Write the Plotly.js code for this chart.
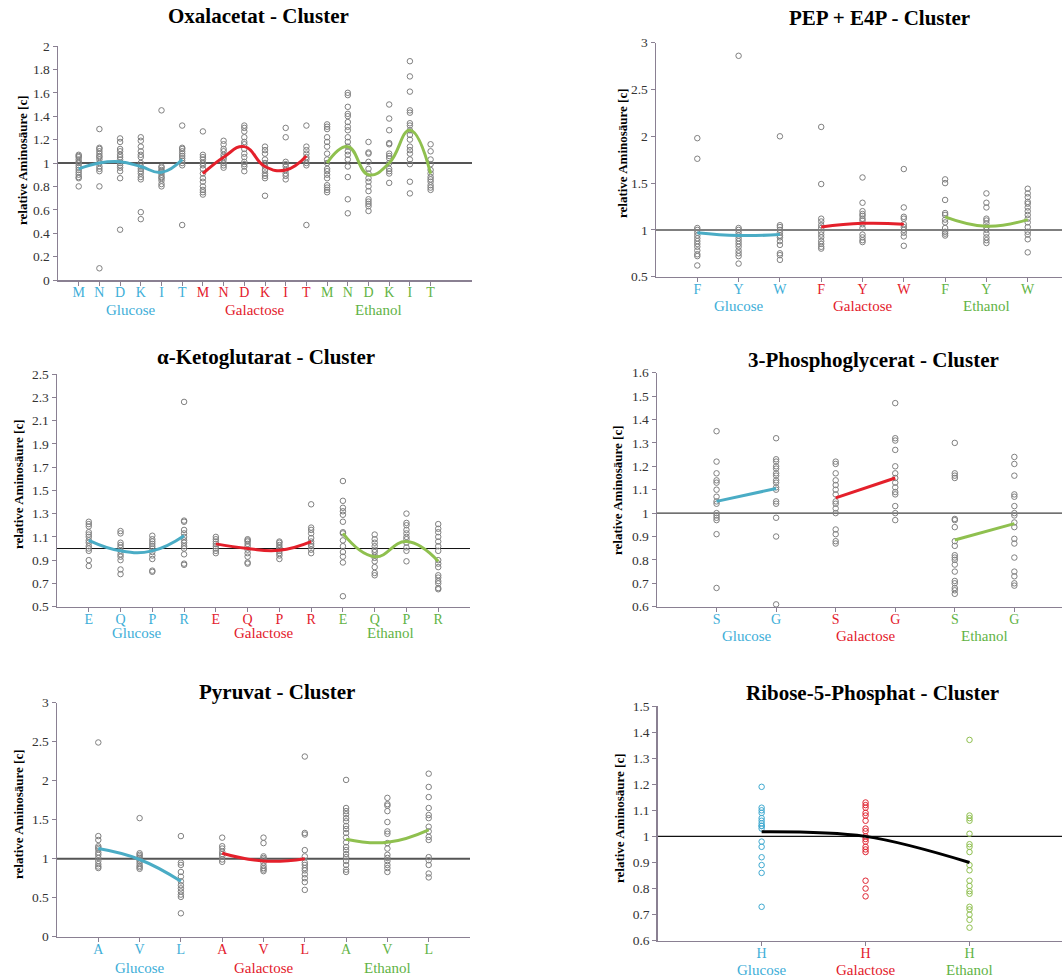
<!DOCTYPE html>
<html><head><meta charset="utf-8">
<script src="https://cdn.plot.ly/plotly-3.0.1.min.js"></script>
<style>html,body{margin:0;padding:0;background:#fff}#chart{width:1062px;height:977px}</style>
</head><body><div id="chart"></div>
<script>
// ---------- DATA ----------
const groupNames = ['Glucose', 'Galactose', 'Ethanol'];

// Oxalacetat
const oxaCats = ['M', 'N', 'D', 'K', 'I', 'T'];
const oxaGlucose = [
  [1.07,1.06,1.05,1.03,1.01,1.0,0.98,0.96,0.94,0.92,0.90,0.88,0.87,0.80],
  [1.29,1.13,1.12,1.10,1.08,1.06,1.05,1.03,1.0,0.97,0.95,0.93,0.80,0.10],
  [1.21,1.18,1.12,1.10,1.07,1.05,1.03,1.0,0.98,0.96,0.93,0.87,0.43],
  [1.22,1.19,1.14,1.10,1.07,1.05,1.0,0.97,0.95,0.93,0.91,0.88,0.86,0.58,0.52],
  [1.45,0.97,0.96,0.94,0.93,0.92,0.90,0.88,0.87,0.85,0.82,0.80],
  [1.32,1.13,1.12,1.10,1.08,1.06,1.04,1.02,1.0,0.98,0.47]
];
const oxaGalactose = [
  [1.27,1.07,1.05,1.03,1.0,0.98,0.95,0.91,0.87,0.84,0.80,0.77,0.75,0.73],
  [1.19,1.16,1.12,1.10,1.07,1.05,1.03,1.0,0.98,0.96],
  [1.32,1.30,1.27,1.22,1.18,1.16,1.12,1.08,1.05,1.01,0.99,0.97,0.93],
  [1.14,1.11,1.08,1.03,1.0,0.97,0.94,0.91,0.89,0.87,0.72],
  [1.30,1.22,1.01,0.99,0.97,0.94,0.91,0.89,0.86],
  [1.32,1.14,1.11,1.08,1.05,1.03,1.0,0.98,0.47]
];
const oxaEthanol = [
  [1.33,1.31,1.29,1.22,1.18,1.14,1.08,1.03,1.0,0.95,0.93,0.90,0.87,0.81,0.79,0.77,0.75],
  [1.60,1.58,1.48,1.42,1.40,1.35,1.31,1.28,1.22,1.18,1.14,1.10,1.07,1.03,0.97,0.88,0.69,0.57],
  [1.18,1.09,1.08,1.01,0.95,0.91,0.87,0.84,0.80,0.76,0.69,0.67,0.65,0.63,0.59],
  [1.50,1.38,1.28,1.17,1.16,1.08,1.06,1.04,1.0,0.95,0.93,0.91,0.83],
  [1.87,1.74,1.61,1.45,1.43,1.34,1.32,1.28,1.24,1.20,1.14,1.11,1.08,1.03,0.99,0.84,0.74],
  [1.16,1.10,1.03,0.99,0.94,0.91,0.88,0.86,0.84,0.81,0.79,0.77]
];
const oxaCurveGlucose = [0.95, 1.0, 1.01, 0.97, 0.92, 1.03];
const oxaCurveGalactose = [0.91, 1.05, 1.14, 0.97, 0.94, 1.06];
const oxaCurveEthanol = [1.0, 1.14, 0.9, 1.0, 1.28, 0.91];

// PEP + E4P
const pepCats = ['F', 'Y', 'W'];
const pepGlucose = [
  [1.98,1.76,1.02,1.0,0.97,0.94,0.91,0.88,0.85,0.82,0.78,0.74,0.72,0.62],
  [2.86,1.02,1.0,0.97,0.94,0.91,0.88,0.85,0.82,0.78,0.75,0.72,0.64],
  [2.0,1.05,1.03,1.0,0.97,0.94,0.92,0.88,0.84,0.75,0.73,0.68]
];
const pepGalactose = [
  [2.10,1.49,1.12,1.09,1.05,1.02,0.98,0.95,0.92,0.88,0.85,0.82,0.80],
  [1.56,1.29,1.20,1.17,1.15,1.12,1.10,1.06,1.02,0.95,0.92,0.89,0.87],
  [1.65,1.24,1.14,1.12,1.06,1.03,1.0,0.97,0.93,0.83]
];
const pepEthanol = [
  [1.54,1.50,1.32,1.18,1.16,1.11,1.08,1.02,0.98,0.96,0.94],
  [1.39,1.29,1.24,1.12,1.10,1.07,1.03,1.0,0.96,0.92,0.89,0.86],
  [1.44,1.39,1.35,1.30,1.28,1.24,1.20,1.16,1.12,1.08,1.03,0.98,0.95,0.90,0.76]
];
const pepCurveGlucose = [0.97, 0.94, 0.95];
const pepCurveGalactose = [1.03, 1.07, 1.06];
const pepCurveEthanol = [1.14, 1.04, 1.11];

// alpha-Ketoglutarat
const akgCats = ['E', 'Q', 'P', 'R'];
const akgGlucose = [
  [1.23,1.21,1.19,1.14,1.12,1.10,1.07,1.05,1.02,1.0,0.98,0.90,0.85],
  [1.15,1.13,1.05,1.03,1.01,0.98,0.95,0.93,0.90,0.82,0.78],
  [1.11,1.08,1.06,1.04,1.02,1.0,0.97,0.94,0.91,0.81,0.80],
  [2.26,1.24,1.23,1.16,1.13,1.10,1.07,1.05,1.02,1.0,0.95,0.87,0.86]
];
const akgGalactose = [
  [1.10,1.08,1.06,1.04,1.02,1.0,0.98,0.96],
  [1.08,1.07,1.06,1.04,1.02,0.99,0.96,0.93,0.88,0.87],
  [1.06,1.05,1.03,1.01,1.0,0.98,0.96,0.94,0.91],
  [1.38,1.18,1.16,1.13,1.09,1.06,1.04,1.02,0.99,0.96]
];
const akgEthanol = [
  [1.58,1.41,1.35,1.32,1.29,1.23,1.14,1.13,1.07,1.02,0.97,0.93,0.88,0.59],
  [1.12,1.08,1.05,1.02,0.99,0.97,0.94,0.92,0.89,0.84,0.79,0.77],
  [1.30,1.22,1.20,1.16,1.13,1.10,1.08,1.05,1.01,0.98,0.89],
  [1.21,1.17,1.14,1.10,1.06,1.02,0.98,0.90,0.87,0.84,0.77,0.75,0.72,0.70,0.66,0.65]
];
const akgCurveGlucose = [1.07, 0.98, 0.98, 1.11];
const akgCurveGalactose = [1.04, 1.0, 0.985, 1.06];
const akgCurveEthanol = [1.13, 0.93, 1.06, 0.89];

// 3-Phosphoglycerat
const pgaCats = ['S', 'G'];
const pgaGlucose = [
  [1.35,1.22,1.17,1.14,1.13,1.10,1.07,1.05,1.04,1.0,0.99,0.98,0.97,0.91,0.68],
  [1.32,1.23,1.22,1.20,1.19,1.17,1.16,1.14,1.13,1.11,1.10,1.05,1.04,0.98,0.90,0.61]
];
const pgaGalactose = [
  [1.22,1.21,1.17,1.14,1.12,1.10,1.08,1.05,1.04,1.02,1.0,0.93,0.91,0.88,0.87],
  [1.47,1.32,1.31,1.27,1.20,1.17,1.15,1.13,1.11,1.09,1.08,1.03,1.0,0.97]
];
const pgaEthanol = [
  [1.30,1.17,1.16,1.15,0.975,0.97,0.94,0.88,0.86,0.82,0.81,0.80,0.78,0.75,0.71,0.70,0.68,0.67,0.655],
  [1.24,1.21,1.16,1.08,1.07,1.03,1.0,0.99,0.96,0.94,0.89,0.87,0.81,0.75,0.73,0.70,0.69]
];
const pgaCurveGlucose = [1.05, 1.105];
const pgaCurveGalactose = [1.065, 1.15];
const pgaCurveEthanol = [0.885, 0.955];

// Pyruvat
const pyrCats = ['A', 'V', 'L'];
const pyrGlucose = [
  [2.49,1.29,1.24,1.16,1.14,1.12,1.08,1.05,1.01,0.97,0.93,0.90,0.88],
  [1.52,1.07,1.05,1.03,1.01,0.99,0.97,0.94,0.91,0.89,0.87],
  [1.29,0.95,0.92,0.83,0.77,0.71,0.66,0.62,0.58,0.54,0.51,0.30]
];
const pyrGalactose = [
  [1.27,1.16,1.13,1.09,1.06,1.03,0.99,0.96],
  [1.27,1.20,1.03,1.01,0.99,0.95,0.91,0.88,0.86,0.84],
  [2.31,1.33,1.31,1.11,1.03,0.95,0.92,0.88,0.85,0.80,0.75,0.70,0.60]
];
const pyrEthanol = [
  [2.01,1.65,1.61,1.57,1.52,1.48,1.42,1.38,1.33,1.27,1.21,1.15,1.11,1.06,1.02,0.97,0.92,0.86,0.83],
  [1.78,1.70,1.68,1.61,1.47,1.35,1.32,1.20,1.13,1.05,1.01,0.97,0.92,0.88,0.83],
  [2.09,1.92,1.79,1.65,1.56,1.52,1.41,1.35,1.28,1.24,1.02,0.98,0.92,0.81,0.76]
];
const pyrCurveGlucose = [1.13, 0.99, 0.71];
const pyrCurveGalactose = [1.07, 0.97, 1.0];
const pyrCurveEthanol = [1.25, 1.21, 1.37];

// Ribose-5-Phosphat
const r5pCats = ['H'];
const r5pGlucose = [[1.19,1.11,1.10,1.09,1.07,1.06,1.05,1.04,1.04,1.03,0.98,0.96,0.92,0.89,0.86,0.73]];
const r5pGalactose = [[1.13,1.12,1.11,1.09,1.08,1.06,1.03,1.02,1.0,0.99,0.98,0.96,0.95,0.94,0.83,0.80,0.77]];
const r5pEthanol = [[1.37,1.08,1.07,1.06,1.01,0.97,0.96,0.94,0.89,0.87,0.83,0.81,0.79,0.78,0.73,0.72,0.70,0.68,0.65]];
const r5pCurveAll = [1.018, 1.0, 0.90];

// ---------- STYLE ----------
const W = 1062, H = 977;
const SERIF = 'Liberation Serif, Times New Roman, serif';
const LINE_COLORS = ['#4aacc5', '#e4202b', '#8fc04f'];
const TEXT_COLORS = ['#3daed8', '#e3202c', '#62b345'];
const MARKER_COLORS6 = ['#3fa9d0', '#e02633', '#8fbf4f'];
const AXIS_COLOR = '#8a8092';

const panels = [
  {title: 'Oxalacetat - Cluster', cats: oxaCats, data: [oxaGlucose, oxaGalactose, oxaEthanol],
   curves: [oxaCurveGlucose, oxaCurveGalactose, oxaCurveEthanol],
   px: [58, 472], py: [46, 280], xmax: 20, yr: [0, 2], tick0: 0, dtick: 0.2,
   titleXY: [258, 16], ytitleXY: [22, 160], groupY: 310, refColor: '#555', refW: 2},
  {title: 'PEP + E4P - Cluster', cats: pepCats, data: [pepGlucose, pepGalactose, pepEthanol],
   curves: [pepCurveGlucose, pepCurveGalactose, pepCurveEthanol],
   px: [656, 1062], py: [42.7, 276.7], xmax: 9.83, yr: [0.5, 3], tick0: 0.5, dtick: 0.5,
   titleXY: [879, 18], ytitleXY: [622, 153], groupY: 306, refColor: '#555', refW: 1.5},
  {title: 'α-Ketoglutarat - Cluster', cats: akgCats, data: [akgGlucose, akgGalactose, akgEthanol],
   curves: [akgCurveGlucose, akgCurveGalactose, akgCurveEthanol],
   px: [57, 470], py: [374, 606.7], xmax: 13, yr: [0.5, 2.5], tick0: 0.5, dtick: 0.2,
   titleXY: [266, 357], ytitleXY: [18, 484], groupY: 633, refColor: '#111', refW: 1},
  {title: '3-Phosphoglycerat - Cluster', cats: pgaCats, data: [pgaGlucose, pgaGalactose, pgaEthanol],
   curves: [pgaCurveGlucose, pgaCurveGalactose, pgaCurveEthanol], linear: true,
   px: [657, 1062], py: [372.7, 606.7], xmax: 6.8, yr: [0.6, 1.6], tick0: 0.6, dtick: 0.1,
   titleXY: [873, 360], ytitleXY: [618, 490], groupY: 636, refColor: '#111', refW: 1},
  {title: 'Pyruvat - Cluster', cats: pyrCats, data: [pyrGlucose, pyrGalactose, pyrEthanol],
   curves: [pyrCurveGlucose, pyrCurveGalactose, pyrCurveEthanol],
   px: [57, 470], py: [702.7, 936.7], xmax: 10, yr: [0, 3], tick0: 0, dtick: 0.5,
   titleXY: [277, 692], ytitleXY: [18, 814], groupY: 968, refColor: '#555', refW: 2},
  {title: 'Ribose-5-Phosphat - Cluster', cats: r5pCats, data: [r5pGlucose, r5pGalactose, r5pEthanol],
   singleCurve: r5pCurveAll, markerColors: MARKER_COLORS6,
   px: [657.7, 1062], py: [706, 940.7], xmax: 3.89, yr: [0.6, 1.5], tick0: 0.6, dtick: 0.1,
   titleXY: [872, 693], ytitleXY: [619, 818], groupY: 970, refColor: '#111', refW: 1.2}
];

const traces = [];
const layout = {
  width: W, height: H, margin: {l: 0, r: 0, t: 0, b: 0},
  paper_bgcolor: '#fff', plot_bgcolor: 'rgba(0,0,0,0)', showlegend: false,
  annotations: [], shapes: [], font: {family: SERIF}
};

panels.forEach((p, idx) => {
  const n = idx === 0 ? '' : String(idx + 1);
  const xa = 'x' + n, ya = 'y' + n;
  const k = p.cats.length;
  const tickvals = [], ticktext = [];
  const curveTraces = [];
  p.data.forEach((groupData, gi) => {
    const pos = p.cats.map((c, ci) => gi * k + ci + 1);
    const xs = [], ys = [];
    groupData.forEach((vals, ci) => vals.forEach(v => { xs.push(pos[ci]); ys.push(v); }));
    traces.push({type: 'scatter', mode: 'markers', x: xs, y: ys, xaxis: xa, yaxis: ya,
      marker: {symbol: 'circle-open', size: 5.5,
        color: p.markerColors ? p.markerColors[gi] : '#808080', line: {width: 1}},
      hoverinfo: 'skip', cliponaxis: false});
    p.cats.forEach((c, ci) => {
      tickvals.push(pos[ci]);
      ticktext.push('<span style="color:' + TEXT_COLORS[gi] + '">' + c + '</span>');
    });
    layout.annotations.push({xref: xa, yref: 'paper', x: (pos[0] + pos[k - 1]) / 2,
      y: 1 - p.groupY / H, yanchor: 'middle', xanchor: 'center', showarrow: false,
      text: groupNames[gi], font: {family: SERIF, size: 15, color: TEXT_COLORS[gi]}});
    if (p.curves) {
      curveTraces.push({type: 'scatter', mode: 'lines', x: pos, y: p.curves[gi], xaxis: xa, yaxis: ya,
        line: {color: LINE_COLORS[gi], width: 3, shape: p.linear ? 'linear' : 'spline', smoothing: 1.3},
        hoverinfo: 'skip'});
    }
  });
  if (p.singleCurve) {
    curveTraces.push({type: 'scatter', mode: 'lines', x: p.singleCurve.map((v, i) => i + 1), y: p.singleCurve,
      xaxis: xa, yaxis: ya, line: {color: '#000', width: 3, shape: 'spline', smoothing: 1}, hoverinfo: 'skip'});
  }
  curveTraces.forEach(t => traces.push(t));

  layout['xaxis' + n] = {
    domain: [p.px[0] / W, p.px[1] / W], anchor: ya, range: [0, p.xmax], fixedrange: true,
    showline: true, linecolor: AXIS_COLOR, linewidth: 1.5, showgrid: false, zeroline: false,
    ticks: 'outside', ticklen: 4, tickcolor: AXIS_COLOR, tickwidth: 1, ticklabelstandoff: -5,
    tickmode: 'array', tickvals: tickvals, ticktext: ticktext,
    tickfont: {family: SERIF, size: 14, color: '#333'}
  };
  layout['yaxis' + n] = {
    domain: [1 - p.py[1] / H, 1 - p.py[0] / H], anchor: xa, range: p.yr, fixedrange: true,
    showline: true, linecolor: AXIS_COLOR, linewidth: 1.5, showgrid: false, zeroline: false,
    ticks: 'outside', ticklen: 4, tickcolor: AXIS_COLOR, tickwidth: 1,
    tick0: p.tick0, dtick: p.dtick, tickfont: {family: SERIF, size: 13.5, color: '#333'}
  };
  layout.shapes.push({type: 'line', xref: xa + ' domain', yref: ya, x0: 0, x1: 1, y0: 1, y1: 1,
    line: {color: p.refColor, width: p.refW}, layer: 'below'});
  layout.annotations.push({xref: 'paper', yref: 'paper', x: p.titleXY[0] / W, y: 1 - p.titleXY[1] / H,
    xanchor: 'center', yanchor: 'middle', showarrow: false, text: '<b>' + p.title + '</b>',
    font: {family: SERIF, size: 21, color: '#000'}});
  layout.annotations.push({xref: 'paper', yref: 'paper', x: p.ytitleXY[0] / W, y: 1 - p.ytitleXY[1] / H,
    xanchor: 'center', yanchor: 'middle', showarrow: false, textangle: -90,
    text: '<b>relative Aminosäure [c]</b>', font: {family: SERIF, size: 13, color: '#000'}});
});

Plotly.newPlot('chart', traces, layout, {displayModeBar: false, staticPlot: true});
</script>
</body></html>
